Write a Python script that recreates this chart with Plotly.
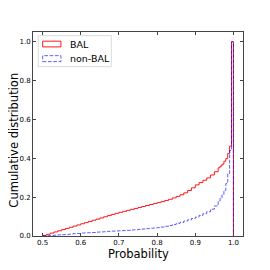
import plotly.graph_objects as go

# Bin left edges (probability) and cumulative fractions
bin_left = [0.50, 0.51, 0.52, 0.53, 0.54, 0.55, 0.56, 0.57, 0.58, 0.59,
            0.60, 0.61, 0.62, 0.63, 0.64, 0.65, 0.66, 0.67, 0.68, 0.69,
            0.70, 0.71, 0.72, 0.73, 0.74, 0.75, 0.76, 0.77, 0.78, 0.79,
            0.80, 0.81, 0.82, 0.83, 0.84, 0.85, 0.86, 0.87, 0.88, 0.89,
            0.90, 0.91, 0.92, 0.93, 0.94, 0.95, 0.96, 0.965, 0.97, 0.975,
            0.98, 0.985, 0.99, 0.995]
bin_end = 1.0

bal_cum = [0.003, 0.009, 0.015, 0.021, 0.027, 0.033, 0.039, 0.045, 0.051, 0.057,
           0.063, 0.069, 0.075, 0.081, 0.087, 0.093, 0.099, 0.105, 0.111, 0.117,
           0.122, 0.127, 0.132, 0.137, 0.142, 0.147, 0.152, 0.157, 0.162, 0.167,
           0.172, 0.177, 0.183, 0.189, 0.196, 0.204, 0.212, 0.222, 0.234, 0.248,
           0.263, 0.275, 0.287, 0.299, 0.314, 0.331, 0.351, 0.360, 0.370, 0.385,
           0.398, 0.425, 0.463, 1.000]

nonbal_cum = [0.001, 0.002, 0.003, 0.004, 0.006, 0.007, 0.008, 0.010, 0.012, 0.013,
              0.015, 0.016, 0.017, 0.018, 0.020, 0.021, 0.022, 0.024, 0.025, 0.026,
              0.027, 0.028, 0.029, 0.031, 0.032, 0.034, 0.036, 0.038, 0.040, 0.041,
              0.043, 0.046, 0.050, 0.054, 0.059, 0.065, 0.070, 0.077, 0.083, 0.090,
              0.097, 0.106, 0.115, 0.125, 0.138, 0.155, 0.180, 0.195, 0.212, 0.235,
              0.270, 0.320, 0.440, 1.000]

x_ticks = [0.5, 0.6, 0.7, 0.8, 0.9, 1.0]
y_ticks = [0.0, 0.2, 0.4, 0.6, 0.8, 1.0]
series_names = ["BAL", "non-BAL"]
x_title = "Probability"
y_title = "Cumulative distribution"


def step_outline(edges, cum, end):
    xs = [edges[0]] + list(edges) + [end, end]
    ys = [0.0] + list(cum) + [cum[-1], 0.0]
    return xs, ys


fig = go.Figure()
bx, by = step_outline(bin_left, bal_cum, bin_end)
nx, ny = step_outline(bin_left, nonbal_cum, bin_end)

fig.add_trace(go.Scatter(x=bx, y=by, mode="lines", line_shape="hv",
                         line=dict(color="rgba(255,0,0,0.9)", width=1.0),
                         name=series_names[0], showlegend=False))
fig.add_trace(go.Scatter(x=nx, y=ny, mode="lines", line_shape="hv",
                         line=dict(color="rgba(0,0,255,0.7)", width=0.9, dash="3.7px,1.6px"),
                         name=series_names[1], showlegend=False))

font = "DejaVu Sans"
axis_common = dict(showline=True, linecolor="#444", linewidth=0.8, mirror="ticks",
                   ticks="inside", ticklen=3.5, tickwidth=0.8, tickcolor="#444",
                   showgrid=False, zeroline=False, automargin=False,
                   tickfont=dict(family=font, size=7, color="black"))

fig.update_xaxes(range=[0.475, 1.025], tickvals=x_ticks,
                 ticktext=[f"{v:.1f}" for v in x_ticks], **axis_common)
fig.update_yaxes(range=[0, 1.05], tickvals=y_ticks,
                 ticktext=[f"{v:.1f}" for v in y_ticks], **axis_common)

# Axis titles
fig.add_annotation(xref="paper", yref="paper", x=0.5, y=-0.088, xanchor="center", yanchor="middle",
                   text=x_title, showarrow=False, font=dict(family=font, size=11.5, color="black"))
fig.add_annotation(xref="paper", yref="paper", x=-0.088, y=0.47, xanchor="center", yanchor="middle",
                   text=y_title, showarrow=False, textangle=-90,
                   font=dict(family=font, size=11.5, color="black"))

# Legend drawn as patches (matplotlib-style step legend)
fig.add_shape(type="rect", xref="paper", yref="paper", x0=0.025, x1=0.373, y0=0.83, y1=0.982,
              line=dict(color="rgba(210,210,210,1)", width=0.8), fillcolor="rgba(255,255,255,0.8)",
              layer="above")
fig.add_shape(type="rect", xref="paper", yref="paper", x0=0.046, x1=0.133, y0=0.927, y1=0.955,
              line=dict(color="rgba(255,0,0,0.9)", width=1.0), layer="above")
fig.add_shape(type="rect", xref="paper", yref="paper", x0=0.046, x1=0.133, y0=0.855, y1=0.884,
              line=dict(color="rgba(0,0,255,0.7)", width=0.9, dash="3.7px,1.6px"), layer="above")
fig.add_annotation(xref="paper", yref="paper", x=0.168, y=0.941, xanchor="left", yanchor="middle",
                   text=series_names[0], showarrow=False,
                   font=dict(family=font, size=9.5, color="black"))
fig.add_annotation(xref="paper", yref="paper", x=0.168, y=0.870, xanchor="left", yanchor="middle",
                   text=series_names[1], showarrow=False,
                   font=dict(family=font, size=9.5, color="black"))

fig.update_layout(width=254, height=254, margin=dict(l=25, r=19, t=24, b=26),
                  paper_bgcolor="white", plot_bgcolor="white", showlegend=False)

fig.write_html("out.html")
